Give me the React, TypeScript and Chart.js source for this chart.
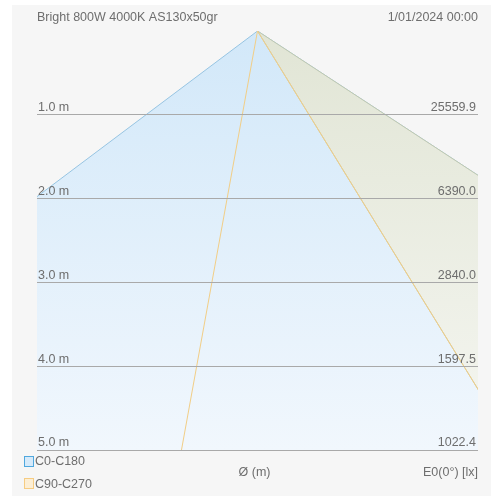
import React, { useEffect, useRef } from "react";
import { Chart, registerables } from "chart.js";

Chart.register(...registerables);

// Header texts
const luminaireName = "Bright 800W 4000K AS130x50gr";
const dateLabel = "1/01/2024 00:00";

// Distances (m) and the illuminance at each one
const distances = [1, 2, 3, 4, 5];
const distanceLabels = ["1.0 m", "2.0 m", "3.0 m", "4.0 m", "5.0 m"];
const illuminanceLabels = ["25559.9", "6390.0", "2840.0", "1597.5", "1022.4"];

// Beam edges: horizontal offset (m) at 5 m distance
const beamDepth = 5;
const c0c180Left = -6.64;
const c0c180Right = 7.62;
const c90c270Left = -0.905;
const c90c270Right = 3.07;

// Horizontal span of the diagram (m)
const xMin = -2.625;
const xMax = 2.625;

const seriesNames = ["C0-C180", "C90-C270"];
const axisTitleX = "Ø (m)";
const axisTitleE = "E0(0°) [lx]";

const FONT = '"Liberation Sans", Arial, sans-serif';
const FONT_SIZE = 12.5;
const TEXT = "#6e6e6e";

function vGradient(top: string, bottom: string) {
  return (ctx: any) => {
    const chart = ctx.chart;
    const area = chart.chartArea;
    if (!area) return top;
    const g = chart.ctx.createLinearGradient(0, area.top, 0, area.bottom);
    g.addColorStop(0, top);
    g.addColorStop(1, bottom);
    return g;
  };
}

const decorPlugin = {
  id: "decor",
  beforeDraw(chart: any) {
    const c = chart.ctx;
    c.save();
    c.fillStyle = "#f6f6f6";
    c.fillRect(12, 5, chart.width - 12, chart.height - 5);
    c.restore();
  },
  afterDraw(chart: any) {
    const c = chart.ctx;
    const a = chart.chartArea;
    c.save();
    c.font = `${FONT_SIZE}px ${FONT}`;
    c.fillStyle = TEXT;
    c.textBaseline = "middle";
    c.textAlign = "left";
    c.fillText(luminaireName, a.left, 18);
    c.textAlign = "right";
    c.fillText(dateLabel, a.right, 18);
    c.textAlign = "center";
    c.fillText(axisTitleX, (a.left + a.right) / 2 - 3, a.bottom + 23);
    c.textAlign = "right";
    c.fillText(axisTitleE, a.right, a.bottom + 23);
    // legend
    c.lineWidth = 1;
    c.fillStyle = "rgb(214,234,250)";
    c.fillRect(24.5, 456.5, 9, 10);
    c.strokeStyle = "rgb(80,168,222)";
    c.strokeRect(24.5, 456.5, 9, 10);
    c.fillStyle = "rgb(252,238,212)";
    c.fillRect(24.5, 478.5, 9, 10);
    c.strokeStyle = "rgb(246,204,130)";
    c.strokeRect(24.5, 478.5, 9, 10);
    c.fillStyle = TEXT;
    c.textAlign = "left";
    c.fillText(seriesNames[0], 35, 462);
    c.fillText(seriesNames[1], 35, 485);
    c.restore();
  },
};

export default function App() {
  const ref = useRef<HTMLCanvasElement>(null);
  useEffect(() => {
    if (!ref.current) return;
    const apex = { x: 0, y: 0 };
    const chart = new Chart(ref.current, {
      type: "line",
      data: {
        datasets: [
          {
            label: seriesNames[1],
            data: [
              { x: c90c270Left, y: beamDepth },
              apex,
              { x: c90c270Right, y: beamDepth },
            ],
            borderColor: "rgb(242,206,134)",
            borderWidth: 1,
            fill: false,
            pointRadius: 0,
            tension: 0,
          },
          {
            label: seriesNames[0] + " side",
            data: [
              { x: c90c270Right, y: beamDepth },
              apex,
              { x: c0c180Right, y: beamDepth },
            ],
            borderColor: "rgb(192,200,176)",
            borderWidth: 1,
            fill: "shape",
            backgroundColor: vGradient("rgb(225,229,213)", "rgb(245,246,241)"),
            pointRadius: 0,
            tension: 0,
          },
          {
            label: seriesNames[0],
            data: [
              { x: c0c180Left, y: beamDepth },
              apex,
              { x: c0c180Right, y: beamDepth },
            ],
            borderColor: "rgb(150,196,226)",
            borderWidth: 1,
            fill: "shape",
            backgroundColor: vGradient("rgb(210,232,249)", "rgb(241,247,253)"),
            pointRadius: 0,
            tension: 0,
          },
        ],
      },
      options: {
        responsive: false,
        animation: false,
        layout: { padding: { left: 37, top: 31, right: 13, bottom: 46 } },
        plugins: {
          legend: { display: false },
          tooltip: { enabled: false },
          title: { display: false },
        },
        scales: {
          x: {
            type: "linear",
            min: xMin,
            max: xMax,
            display: false,
          },
          y: {
            type: "linear",
            position: "left",
            min: 0,
            max: 5,
            reverse: true,
            border: { display: false, z: 2 },
            afterBuildTicks: (s: any) => {
              s.ticks = distances.map((v) => ({ value: v }));
            },
            afterFit: (s: any) => {
              s.width = 0;
            },
            grid: { color: "#a9a9a9", lineWidth: 1, drawTicks: false, z: 1 },
            ticks: {
              z: 2,
              mirror: true,
              padding: 1,
              labelOffset: -7,
              color: TEXT,
              font: { family: FONT, size: FONT_SIZE },
              callback: (v: any) => {
                const i = distances.indexOf(Number(v));
                return i >= 0 ? distanceLabels[i] : "";
              },
            },
          },
          y2: {
            type: "linear",
            position: "right",
            min: 0,
            max: 5,
            reverse: true,
            border: { display: false, z: 2 },
            afterBuildTicks: (s: any) => {
              s.ticks = distances.map((v) => ({ value: v }));
            },
            afterFit: (s: any) => {
              s.width = 0;
            },
            grid: { display: false, drawTicks: false },
            ticks: {
              z: 2,
              mirror: true,
              padding: -2,
              labelOffset: -7,
              color: TEXT,
              font: { family: FONT, size: FONT_SIZE },
              callback: (v: any) => {
                const i = distances.indexOf(Number(v));
                return i >= 0 ? illuminanceLabels[i] : "";
              },
            },
          },
        },
      },
      plugins: [decorPlugin],
    });
    return () => chart.destroy();
  }, []);
  return (
    <div style={{ position: "absolute", left: 0, top: 0, width: 491, height: 496 }}>
      <canvas ref={ref} width={491} height={496} style={{ width: 491, height: 496 }} />
    </div>
  );
}
